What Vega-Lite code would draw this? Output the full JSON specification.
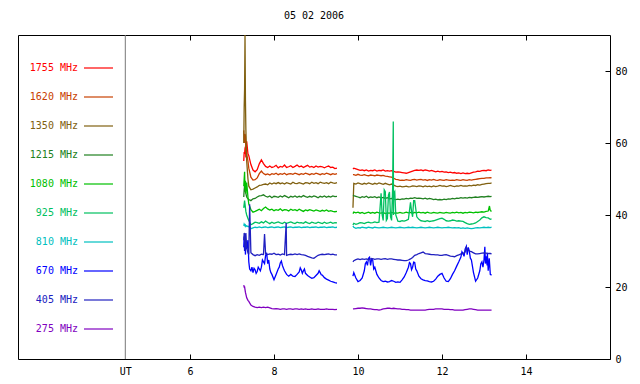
{
"$schema": "https://vega.github.io/schema/vega-lite/v6.json",
"width": 592, "height": 324,
"autosize": "none",
"padding": {"left": 18, "top": 35, "right": 30, "bottom": 25},
"background": "white",
"title": {"text": "05 02 2006", "font": "DejaVu Sans Mono", "fontSize": 10, "fontWeight": "normal", "color": "black", "offset": 11, "anchor": "middle", "frame": "group"},
"config": {"view": {"stroke": "black", "strokeWidth": 1}, "axis": {"grid": false, "domain": false, "labelFont": "DejaVu Sans Mono", "labelFontSize": 10, "labelColor": "black", "tickColor": "black", "title": null}},
"resolve": {"axis": {"x": "independent"}},
"layer": [
{"data": {"values": [{"t": 4.46}]},
 "mark": {"type": "rule", "color": "#777777", "strokeWidth": 1},
 "encoding": {"x": {"field": "t", "type": "quantitative", "scale": {"domain": [1.905, 16], "nice": false, "zero": false}, "axis": {"orient": "top", "values": [6,8,10,12,14], "labels": false, "tickSize": -5, "domain": false}}}},
{"data": {"values": [
{"t":7.28,"s":1,"1755":55,"1620":63.5,"1350":60,"1215":45,"1080":48,"925":42,"810":37,"670":31,"405":33,"275":20.5},
{"t":7.29,"s":1,"1755":57.5,"1620":61,"1350":70,"1215":47,"1080":50,"925":43,"810":37.5,"670":34,"405":35,"275":20},
{"t":7.30,"s":1,"1755":57,"1620":60,"1350":75,"1215":48,"1080":52,"925":44,"810":37.3,"670":30,"405":34.5,"275":20},
{"t":7.31,"s":1,"1755":58.5,"1620":62.5,"1350":90,"1215":47,"1080":47,"925":43,"810":37,"670":33.5,"405":30,"275":19.3},
{"t":7.32,"s":1,"1755":59,"1620":62,"1350":72,"1215":46.5,"1080":49.5,"925":42,"810":37.2,"670":29,"405":32,"275":18.5},
{"t":7.33,"s":1,"1755":56,"1620":58,"1350":64,"1215":46,"1080":46,"925":41,"810":36.8,"670":32,"405":35,"275":18},
{"t":7.35,"s":1,"1755":60.5,"1620":57,"1350":55,"1215":45,"1080":49,"925":40,"810":37,"670":30.5,"405":31,"275":17},
{"t":7.38,"s":1,"1755":57,"1620":55,"1350":50,"1215":44.5,"1080":45,"925":39,"810":36.8,"670":33,"405":29.5,"275":16.3},
{"t":7.40,"s":1,"1755":56.5,"1620":53,"1350":48,"1215":44.3,"1080":43,"925":38.5,"810":36.8,"670":27,"405":29,"275":16},
{"t":7.42,"s":1,"670":25,"405":43},
{"t":7.45,"s":1,"1755":54,"1620":50.5,"1350":47,"1215":44,"1080":41.5,"925":37.3,"810":36.2,"670":24.5,"405":29.5,"275":15},
{"t":7.475,"s":1,"670":25.5},
{"t":7.50,"s":1,"1755":52.5,"1620":49.7,"1350":47.2,"1215":44.5,"1080":40.8,"925":37.6,"810":36.4,"670":24.0,"405":29,"275":14.6},
{"t":7.525,"s":1,"670":25.2},
{"t":7.55,"s":1,"1755":52,"1620":49.8,"1350":47.5,"1215":44.6,"1080":41,"925":38,"810":36.6,"670":24.8,"405":28.7,"275":14.4},
{"t":7.575,"s":1,"670":23.8},
{"t":7.60,"s":1,"1755":52.6,"1620":50.3,"1350":47.8,"1215":45,"1080":41.3,"925":37.9,"810":36.5,"670":24.3,"405":29,"275":14.3},
{"t":7.625,"s":1,"670":25.5},
{"t":7.65,"s":1,"1755":54.2,"1620":51.5,"1350":48.2,"1215":45.3,"1080":41.6,"925":37.7,"810":36.7,"670":25.0,"405":28.8,"275":14.4},
{"t":7.675,"s":1,"670":24.5},
{"t":7.70,"s":1,"1755":55.3,"1620":52.2,"1350":48.3,"1215":45.4,"1080":41.2,"925":38.1,"810":36.5,"670":25.5,"405":29.1,"275":14.3},
{"t":7.725,"s":1,"670":27.5},
{"t":7.75,"s":1,"1755":54.3,"1620":51.5,"1350":48.5,"1215":45.6,"1080":41.8,"925":37.8,"810":36.6,"670":27.0,"405":29.0,"275":14.4},
{"t":7.775,"s":1,"670":26.5,"405":34.7},
{"t":7.80,"s":1,"1755":53.5,"1620":51.2,"1350":48.6,"1215":45.2,"1080":42.2,"925":38.3,"810":36.7,"670":28.8,"405":29.3,"275":14.3},
{"t":7.825,"s":1,"670":29.5},
{"t":7.85,"s":1,"1755":53.2,"1620":51.4,"1350":48.4,"1215":45.0,"1080":41.7,"925":37.9,"810":36.5,"670":26.5,"405":29.0,"275":14.4},
{"t":7.875,"s":1,"670":27.5},
{"t":7.90,"s":1,"1755":53.6,"1620":51.1,"1350":48.9,"1215":45.3,"1080":41.4,"925":37.6,"810":36.6,"670":25.0,"405":29.2,"275":14.2},
{"t":7.925,"s":1,"670":24},
{"t":7.95,"s":1,"1755":53.2,"1620":51.5,"1350":48.6,"1215":44.8,"1080":41.6,"925":38.0,"810":36.7,"670":23.5,"405":29.1,"275":14.0},
{"t":8.00,"s":1,"1755":53.4,"1620":51.3,"1350":48.9,"1215":45.2,"1080":41.2,"925":37.7,"810":36.5,"670":22.0,"405":29.4,"275":13.9},
{"t":8.05,"s":1,"1755":53.8,"1620":51.6,"1350":48.7,"1215":45.1,"1080":41.5,"925":37.9,"810":36.6,"670":23.5,"405":29.0,"275":14.0},
{"t":8.10,"s":1,"1755":53.1,"1620":51.2,"1350":49.0,"1215":44.9,"1080":41.3,"925":38.1,"810":36.7,"670":25.0,"405":29.1,"275":13.9},
{"t":8.125,"s":1,"670":25.5},
{"t":8.15,"s":1,"1755":53.5,"1620":51.5,"1350":48.7,"1215":45.3,"1080":41.7,"925":37.8,"810":36.5,"670":26.7,"405":28.9,"275":13.8},
{"t":8.175,"s":1,"670":27.2},
{"t":8.20,"s":1,"1755":53.3,"1620":51.3,"1350":48.9,"1215":45.0,"1080":41.2,"925":37.6,"810":36.6,"670":26.0,"405":29.2,"275":13.9},
{"t":8.225,"s":1,"670":25.2},
{"t":8.25,"s":1,"1755":53.9,"1620":51.6,"1350":48.6,"1215":45.4,"1080":41.5,"925":38.0,"810":36.7,"670":24.5,"405":29.0,"275":13.9},
{"t":8.29,"s":1,"405":37.8},
{"t":8.30,"s":1,"1755":53.2,"1620":51.2,"1350":49.0,"1215":45.1,"1080":41.4,"925":37.7,"810":36.5,"670":23.5,"405":28.8,"275":13.8},
{"t":8.35,"s":1,"1755":53.4,"1620":51.4,"1350":48.8,"1215":44.8,"1080":41.1,"925":37.9,"810":36.6,"670":23.0,"405":29.0,"275":13.9},
{"t":8.40,"s":1,"1755":53.7,"1620":51.5,"1350":48.6,"1215":45.2,"1080":41.6,"925":38.1,"810":36.7,"670":23.5,"405":29.1,"275":13.9},
{"t":8.45,"s":1,"1755":53.2,"1620":51.3,"1350":49.1,"1215":45.0,"1080":41.3,"925":37.8,"810":36.5,"670":23.0,"405":29.0,"275":13.8},
{"t":8.50,"s":1,"1755":53.5,"1620":51.6,"1350":48.8,"1215":45.3,"1080":41.5,"925":37.6,"810":36.6,"670":22.9,"405":29.2,"275":13.9},
{"t":8.55,"s":1,"1755":53.9,"1620":51.4,"1350":48.7,"1215":44.9,"1080":41.2,"925":38.0,"810":36.6,"670":23.5,"405":29.0,"275":13.9},
{"t":8.60,"s":1,"1755":53.4,"1620":51.2,"1350":49.0,"1215":45.2,"1080":41.6,"925":37.8,"810":36.7,"670":24.2,"405":29.2,"275":13.8},
{"t":8.625,"s":1,"670":25.3},
{"t":8.65,"s":1,"1755":53.6,"1620":51.5,"1350":48.8,"1215":45.0,"1080":41.3,"925":37.9,"810":36.5,"670":24.7,"405":29.0,"275":13.9},
{"t":8.675,"s":1,"670":23.8},
{"t":8.70,"s":1,"1755":53.2,"1620":51.3,"1350":48.6,"1215":45.4,"1080":41.0,"925":37.7,"810":36.6,"670":24.5,"405":28.9,"275":13.8},
{"t":8.725,"s":1,"670":25.0},
{"t":8.75,"s":1,"1755":53.5,"1620":51.6,"1350":49.0,"1215":45.1,"1080":41.4,"925":38.1,"810":36.6,"670":23.8,"405":28.8,"275":13.9},
{"t":8.80,"s":1,"1755":53.8,"1620":51.4,"1350":48.9,"1215":44.9,"1080":41.2,"925":37.8,"810":36.7,"670":23.2,"405":28.5,"275":13.8},
{"t":8.85,"s":1,"1755":53.3,"1620":51.2,"1350":48.7,"1215":45.2,"1080":41.5,"925":37.6,"810":36.5,"670":22.8,"405":28.3,"275":13.8},
{"t":8.90,"s":1,"1755":53.5,"1620":51.5,"1350":49.1,"1215":45.0,"1080":41.3,"925":38.0,"810":36.6,"670":22.4,"405":28.1,"275":13.9},
{"t":8.95,"s":1,"1755":53.2,"1620":51.3,"1350":48.8,"1215":45.3,"1080":41.1,"925":37.8,"810":36.6,"670":22.6,"405":28.0,"275":13.8},
{"t":9.00,"s":1,"1755":53.6,"1620":51.6,"1350":49.0,"1215":45.1,"1080":41.4,"925":37.7,"810":36.7,"670":23.2,"405":28.4,"275":13.8},
{"t":9.05,"s":1,"1755":53.3,"1620":51.4,"1350":48.7,"1215":44.8,"1080":41.2,"925":38.0,"810":36.5,"670":23.8,"405":28.8,"275":13.9},
{"t":9.075,"s":1,"670":24.5},
{"t":9.10,"s":1,"1755":53.5,"1620":51.2,"1350":49.1,"1215":45.2,"1080":41.0,"925":37.8,"810":36.6,"670":24.0,"405":29.0,"275":13.8},
{"t":9.125,"s":1,"670":23.4},
{"t":9.15,"s":1,"1755":53.4,"1620":51.5,"1350":48.9,"1215":45.0,"1080":41.3,"925":37.6,"810":36.6,"670":23.3,"405":29.1,"275":13.8},
{"t":9.20,"s":1,"1755":53.1,"1620":51.3,"1350":48.8,"1215":45.3,"1080":41.1,"925":38.0,"810":36.7,"670":22.6,"405":29.0,"275":13.8},
{"t":9.25,"s":1,"1755":53.4,"1620":51.6,"1350":49.0,"1215":44.9,"1080":41.4,"925":37.7,"810":36.5,"670":22.2,"405":29.1,"275":13.9},
{"t":9.30,"s":1,"1755":53.6,"1620":51.4,"1350":48.7,"1215":45.2,"1080":41.0,"925":37.8,"810":36.6,"670":21.9,"405":29.2,"275":13.8},
{"t":9.35,"s":1,"1755":53.2,"1620":51.2,"1350":49.1,"1215":45.0,"1080":41.2,"925":38.0,"810":36.6,"670":21.6,"405":29.0,"275":13.8},
{"t":9.40,"s":1,"1755":53.3,"1620":51.5,"1350":48.9,"1215":45.3,"1080":41.0,"925":37.7,"810":36.7,"670":21.4,"405":29.1,"275":13.8},
{"t":9.45,"s":1,"1755":52.9,"1620":51.3,"1350":48.8,"1215":45.1,"1080":40.9,"925":37.9,"810":36.5,"670":21.2,"405":28.9,"275":13.7},
{"t":9.50,"s":1,"1755":53.0,"1620":51.5,"1350":49.0,"1215":45.2,"1080":41.0,"925":37.8,"810":36.6,"670":21.1,"405":28.9,"275":13.8},
{"t":9.88,"s":2,"1755":52.8,"1620":51.2,"1350":42,"1215":45.5,"1080":40.4,"925":37.2,"810":37.0,"670":23.0,"405":27.0,"275":13.9},
{"t":9.90,"s":2,"1755":53.0,"1620":51.2,"1350":48.8,"1215":45.4,"1080":40.8,"925":37.7,"810":36.6,"670":24.0,"405":27.3,"275":13.9},
{"t":9.95,"s":2,"1755":52.8,"1620":51.0,"1350":48.6,"1215":45.2,"1080":40.6,"925":37.4,"810":36.3,"670":22.5,"405":27.6,"275":14.0},
{"t":10.00,"s":2,"1755":52.6,"1620":51.3,"1350":48.9,"1215":45.0,"1080":40.8,"925":37.6,"810":36.5,"670":21.5,"405":27.8,"275":14.1},
{"t":10.05,"s":2,"1755":52.4,"1620":51.1,"1350":48.7,"1215":44.8,"1080":40.5,"925":37.9,"810":36.4,"670":21.8,"405":27.6,"275":14.1},
{"t":10.10,"s":2,"1755":52.5,"1620":51.0,"1350":48.5,"1215":45.1,"1080":40.7,"925":37.8,"810":36.6,"670":22.5,"405":27.8,"275":14.2},
{"t":10.15,"s":2,"1755":52.3,"1620":51.2,"1350":48.8,"1215":44.9,"1080":40.4,"925":37.6,"810":36.5,"670":24.5,"405":27.7,"275":14.1},
{"t":10.175,"s":2,"670":26.5},
{"t":10.20,"s":2,"1755":52.5,"1620":51.0,"1350":48.6,"1215":45.2,"1080":40.6,"925":37.9,"810":36.4,"670":27.0,"405":27.8,"275":14.0},
{"t":10.225,"s":2,"670":26.0},
{"t":10.25,"s":2,"1755":52.2,"1620":50.9,"1350":48.9,"1215":44.8,"1080":40.8,"925":38.0,"810":36.6,"670":28.0,"405":27.6,"275":13.9},
{"t":10.275,"s":2,"670":28.3},
{"t":10.30,"s":2,"1755":52.4,"1620":51.1,"1350":48.7,"1215":45.0,"1080":40.5,"925":37.8,"810":36.5,"670":26.0,"405":27.8,"275":13.9},
{"t":10.325,"s":2,"670":27.8},
{"t":10.35,"s":2,"1755":52.3,"1620":51.0,"1350":48.5,"1215":44.9,"1080":40.7,"925":37.9,"810":36.4,"670":27.5,"405":27.9,"275":13.8},
{"t":10.375,"s":2,"670":25.0},
{"t":10.40,"s":2,"1755":52.5,"1620":50.9,"1350":48.8,"1215":45.1,"1080":40.5,"925":38.1,"810":36.6,"670":25.5,"405":27.7,"275":13.7},
{"t":10.45,"s":2,"1755":52.2,"1620":51.1,"1350":48.6,"1215":44.8,"1080":40.8,"925":37.9,"810":36.5,"670":23.5,"405":27.8,"275":13.7},
{"t":10.50,"s":2,"1755":52.4,"1620":51.0,"1350":48.9,"1215":45.0,"1080":40.6,"925":38.0,"810":36.4,"670":22.5,"405":27.8,"275":13.6},
{"t":10.55,"s":2,"1755":52.3,"1620":50.9,"1350":48.7,"1215":44.7,"1080":40.5,"925":46.0,"810":36.5,"670":21.8,"405":27.7,"275":13.7},
{"t":10.575,"s":2,"925":40},
{"t":10.60,"s":2,"1755":52.5,"1620":51.0,"1350":48.5,"1215":44.9,"1080":40.7,"925":38.5,"810":36.6,"670":21.5,"405":27.8,"275":13.9},
{"t":10.625,"s":2,"925":47},
{"t":10.65,"s":2,"1755":52.2,"1620":50.8,"1350":48.8,"1215":44.6,"1080":40.4,"925":46.5,"810":36.5,"670":21.6,"405":27.9,"275":14.0},
{"t":10.675,"s":2,"925":38.5},
{"t":10.70,"s":2,"1755":52.3,"1620":50.7,"1350":48.6,"1215":44.8,"1080":40.6,"925":39.0,"810":36.4,"670":21.4,"405":27.7,"275":14.1},
{"t":10.725,"s":2,"925":45.5},
{"t":10.75,"s":2,"1755":52.2,"1620":50.6,"1350":48.4,"1215":44.5,"1080":40.5,"925":46.4,"810":36.5,"670":21.5,"405":27.8,"275":14.1},
{"t":10.775,"s":2,"925":39.5},
{"t":10.80,"s":2,"1755":52.3,"1620":50.5,"1350":48.6,"1215":44.6,"1080":40.7,"925":38.5,"810":36.6,"670":21.8,"405":27.8,"275":14.0},
{"t":10.825,"s":2,"925":47.5},
{"t":10.84,"s":2,"925":66},
{"t":10.845,"s":2,"925":40},
{"t":10.85,"s":2,"1755":52.1,"1620":50.2,"1350":48.3,"1215":44.4,"1080":40.5,"925":46.0,"810":36.5,"670":21.6,"405":27.7,"275":14.1},
{"t":10.875,"s":2,"925":46.5},
{"t":10.90,"s":2,"1755":51.9,"1620":49.9,"1350":48.0,"1215":44.3,"1080":40.6,"925":40.0,"810":36.4,"670":21.3,"405":27.6,"275":14.0},
{"t":10.95,"s":2,"1755":52.0,"1620":49.8,"1350":47.9,"1215":44.4,"1080":40.5,"925":38.3,"810":36.5,"670":21.4,"405":27.5,"275":13.9},
{"t":11.00,"s":2,"1755":51.9,"1620":49.6,"1350":48.0,"1215":44.3,"1080":40.7,"925":38.2,"810":36.6,"670":21.3,"405":27.5,"275":13.9},
{"t":11.05,"s":2,"1755":51.8,"1620":49.7,"1350":47.8,"1215":44.5,"1080":40.5,"925":38.4,"810":36.5,"670":22.0,"405":27.4,"275":13.8},
{"t":11.10,"s":2,"1755":51.7,"1620":49.6,"1350":47.9,"1215":44.4,"1080":40.6,"925":38.3,"810":36.4,"670":22.8,"405":27.3,"275":13.8},
{"t":11.15,"s":2,"1755":51.6,"1620":49.8,"1350":48.0,"1215":44.6,"1080":40.8,"925":38.5,"810":36.5,"670":24.0,"405":27.3,"275":13.7},
{"t":11.20,"s":2,"1755":51.8,"1620":49.7,"1350":47.8,"1215":44.5,"1080":40.6,"925":38.8,"810":36.6,"670":25.5,"405":27.5,"275":13.7},
{"t":11.225,"s":2,"670":26.8},
{"t":11.25,"s":2,"1755":52.0,"1620":49.6,"1350":47.9,"1215":44.7,"1080":40.7,"925":43.5,"810":36.5,"670":26.5,"405":27.8,"275":13.6},
{"t":11.275,"s":2,"925":41,"670":24.8},
{"t":11.30,"s":2,"1755":52.2,"1620":49.8,"1350":48.1,"1215":44.6,"1080":40.5,"925":39.5,"810":36.6,"670":25.5,"405":28.2,"275":13.6},
{"t":11.325,"s":2,"925":44,"670":26.9},
{"t":11.35,"s":2,"1755":52.4,"1620":49.9,"1350":48.0,"1215":44.8,"1080":40.7,"925":44.0,"810":36.5,"670":26.8,"405":28.8,"275":13.6},
{"t":11.375,"s":2,"670":25.0},
{"t":11.40,"s":2,"1755":52.5,"1620":49.7,"1350":47.9,"1215":44.6,"1080":40.6,"925":39.5,"810":36.4,"670":24.5,"405":29.0,"275":13.6},
{"t":11.45,"s":2,"1755":52.4,"1620":49.8,"1350":48.1,"1215":44.7,"1080":40.8,"925":38.8,"810":36.5,"670":23.0,"405":29.3,"275":13.6},
{"t":11.50,"s":2,"1755":52.5,"1620":49.9,"1350":48.0,"1215":44.6,"1080":40.6,"925":38.4,"810":36.6,"670":22.3,"405":29.5,"275":13.6},
{"t":11.55,"s":2,"1755":52.3,"1620":49.7,"1350":47.8,"1215":44.5,"1080":40.7,"925":38.3,"810":36.5,"670":22.0,"405":29.7,"275":13.6},
{"t":11.60,"s":2,"1755":52.5,"1620":49.8,"1350":48.1,"1215":44.7,"1080":40.5,"925":38.2,"810":36.4,"670":21.8,"405":29.3,"275":13.6},
{"t":11.65,"s":2,"1755":52.4,"1620":49.6,"1350":47.9,"1215":44.4,"1080":40.8,"925":38.4,"810":36.5,"670":21.7,"405":29.2,"275":13.7},
{"t":11.70,"s":2,"1755":52.2,"1620":49.8,"1350":48.0,"1215":44.6,"1080":40.6,"925":38.2,"810":36.6,"670":21.5,"405":29.1,"275":13.8},
{"t":11.75,"s":2,"1755":52.4,"1620":49.7,"1350":47.8,"1215":44.5,"1080":40.5,"925":38.3,"810":36.5,"670":21.4,"405":29.0,"275":13.8},
{"t":11.80,"s":2,"1755":52.2,"1620":49.9,"1350":48.1,"1215":44.3,"1080":40.7,"925":38.4,"810":36.4,"670":21.6,"405":29.0,"275":13.8},
{"t":11.85,"s":2,"1755":52.0,"1620":49.7,"1350":47.9,"1215":44.4,"1080":40.6,"925":38.6,"810":36.5,"670":22.2,"405":28.9,"275":13.9},
{"t":11.90,"s":2,"1755":52.2,"1620":49.6,"1350":48.0,"1215":44.2,"1080":40.5,"925":38.8,"810":36.6,"670":23.0,"405":28.9,"275":13.9},
{"t":11.95,"s":2,"1755":52.0,"1620":49.8,"1350":48.2,"1215":44.3,"1080":40.7,"925":39.0,"810":36.5,"670":23.5,"405":28.8,"275":13.9},
{"t":12.00,"s":2,"1755":52.1,"1620":49.7,"1350":48.0,"1215":44.2,"1080":40.6,"925":39.1,"810":36.4,"670":23.8,"405":28.8,"275":13.9},
{"t":12.05,"s":2,"1755":51.9,"1620":49.6,"1350":48.1,"1215":44.4,"1080":40.5,"925":38.8,"810":36.5,"670":22.5,"405":28.9,"275":13.8},
{"t":12.10,"s":2,"1755":52.0,"1620":49.8,"1350":47.9,"1215":44.3,"1080":40.7,"925":38.4,"810":36.5,"670":21.6,"405":29.0,"275":13.8},
{"t":12.15,"s":2,"1755":51.8,"1620":49.7,"1350":48.0,"1215":44.5,"1080":40.6,"925":38.3,"810":36.6,"670":21.5,"405":28.8,"275":13.8},
{"t":12.20,"s":2,"1755":51.9,"1620":49.6,"1350":48.2,"1215":44.4,"1080":40.5,"925":38.4,"810":36.5,"670":22.3,"405":28.6,"275":13.7},
{"t":12.25,"s":2,"1755":51.7,"1620":49.7,"1350":48.0,"1215":44.6,"1080":40.7,"925":38.6,"810":36.4,"670":23.5,"405":28.5,"275":13.7},
{"t":12.30,"s":2,"1755":51.8,"1620":49.6,"1350":47.9,"1215":44.5,"1080":40.6,"925":38.5,"810":36.5,"670":24.5,"405":28.4,"275":13.6},
{"t":12.35,"s":2,"1755":51.6,"1620":49.8,"1350":48.1,"1215":44.7,"1080":40.8,"925":38.3,"810":36.4,"670":25.8,"405":28.7,"275":13.6},
{"t":12.40,"s":2,"1755":51.7,"1620":49.7,"1350":48.0,"1215":44.6,"1080":40.6,"925":38.4,"810":36.5,"670":27.0,"405":28.9,"275":13.6},
{"t":12.45,"s":2,"1755":51.5,"1620":49.6,"1350":48.2,"1215":44.8,"1080":40.7,"925":38.3,"810":36.3,"670":28.3,"405":29.2,"275":13.6},
{"t":12.475,"s":2,"670":29.8},
{"t":12.50,"s":2,"1755":51.7,"1620":49.8,"1350":48.0,"1215":44.7,"1080":40.5,"925":38.2,"810":36.4,"670":29.3,"405":29.3,"275":13.6},
{"t":12.525,"s":2,"670":28.5},
{"t":12.55,"s":2,"1755":51.5,"1620":49.7,"1350":48.1,"1215":44.8,"1080":40.7,"925":37.9,"810":36.3,"670":30.5,"405":29.7,"275":13.7},
{"t":12.58,"s":2,"670":31.3,"405":31.0},
{"t":12.60,"s":2,"1755":51.6,"1620":49.6,"1350":48.0,"1215":44.7,"1080":40.6,"925":37.6,"810":36.4,"670":29.0,"405":30.5,"275":13.8},
{"t":12.625,"s":2,"670":31.0},
{"t":12.65,"s":2,"1755":51.5,"1620":49.8,"1350":48.2,"1215":44.9,"1080":40.8,"925":37.4,"810":36.3,"670":30.0,"405":30.0,"275":13.9},
{"t":12.675,"s":2,"670":28.0},
{"t":12.70,"s":2,"1755":51.7,"1620":49.7,"1350":48.1,"1215":44.8,"1080":40.7,"925":37.5,"810":36.2,"670":27.5,"405":29.8,"275":13.9},
{"t":12.75,"s":2,"1755":51.9,"1620":49.8,"1350":48.3,"1215":44.9,"1080":40.6,"925":37.6,"810":36.3,"670":24.0,"405":29.5,"275":13.8},
{"t":12.80,"s":2,"1755":52.0,"1620":49.9,"1350":48.2,"1215":45.0,"1080":40.8,"925":37.8,"810":36.4,"670":21.6,"405":29.2,"275":13.7},
{"t":12.85,"s":2,"1755":52.2,"1620":50.0,"1350":48.4,"1215":44.9,"1080":40.7,"925":38.2,"810":36.5,"670":22.5,"405":29.2,"275":13.6},
{"t":12.90,"s":2,"1755":52.1,"1620":50.1,"1350":48.3,"1215":45.0,"1080":40.8,"925":38.6,"810":36.4,"670":24.5,"405":29.3,"275":13.6},
{"t":12.925,"s":2,"670":26.5},
{"t":12.95,"s":2,"1755":52.3,"1620":50.2,"1350":48.5,"1215":45.1,"1080":40.9,"925":39.2,"810":36.5,"670":27.0,"405":29.4,"275":13.6},
{"t":12.975,"s":2,"670":25.5},
{"t":13.00,"s":2,"1755":52.4,"1620":50.2,"1350":48.6,"1215":45.0,"1080":40.8,"925":39.5,"810":36.6,"670":27.5,"405":29.5,"275":13.6},
{"t":13.02,"s":2,"670":31.2},
{"t":13.035,"s":2,"670":26.5},
{"t":13.05,"s":2,"1755":52.3,"1620":50.3,"1350":48.7,"1215":45.1,"1080":41.0,"925":39.3,"810":36.5,"670":28.5,"405":29.4,"275":13.6},
{"t":13.075,"s":2,"670":26.0},
{"t":13.08,"s":2,"670":29.5},
{"t":13.10,"s":2,"1755":52.5,"1620":50.3,"1350":48.8,"1215":45.2,"1080":41.1,"925":39.2,"810":36.6,"670":24.5,"405":29.3,"275":13.6},
{"t":13.125,"s":2,"670":28.0},
{"t":13.13,"s":2,"1080":42.5},
{"t":13.15,"s":2,"1755":52.4,"1620":50.4,"1350":48.8,"1215":45.1,"1080":41.2,"925":38.8,"810":36.5,"670":23.5,"405":29.3,"275":13.6},
{"t":13.18,"s":2,"1755":52.5,"1620":50.3,"1350":48.9,"1215":45.2,"1080":41.0,"925":38.9,"810":36.6,"670":23.3,"405":29.2,"275":13.6}
]},
 "transform": [{"fold": ["1755","1620","1350","1215","1080","925","810","670","405","275"], "as": ["f","v"]}, {"filter": "isValid(datum.v)"}],
 "mark": {"type": "line", "strokeWidth": 1.3, "interpolate": "linear"},
 "encoding": {
  "x": {"field": "t", "type": "quantitative", "scale": {"domain": [1.905, 16], "nice": false, "zero": false},
        "axis": {"orient": "bottom", "values": [4.46,6,8,10,12,14], "labelExpr": "datum.value < 5 ? 'UT' : datum.label", "tickSize": -5, "labelPadding": 12, "labelFlush": false,
                 "tickColor": {"condition": {"test": "datum.value < 5", "value": "transparent"}, "value": "black"}}},
  "y": {"field": "v", "type": "quantitative", "scale": {"domain": [0, 90], "nice": false},
        "axis": {"orient": "right", "values": [0,20,40,60,80], "tickSize": -5, "labelPadding": 10, "labelFlush": false}},
  "color": {"field": "f", "type": "nominal",
            "scale": {"domain": ["1755","1620","1350","1215","1080","925","810","670","405","275"],
                      "range": ["#ff0000","#c84000","#806010","#208020","#00c000","#00c060","#00c0c0","#0000ff","#2020c0","#8000c0"]},
            "legend": {"title": null, "orient": "none", "legendX": 65, "legendY": 17.5, "symbolType": "stroke", "symbolSize": 841, "symbolStrokeWidth": 1.2,
                       "labelAlign": "right", "labelOffset": -36, "labelBaseline": "middle", "labelFont": "DejaVu Sans Mono", "labelFontSize": 10,
                       "rowPadding": 8, "padding": 0, "symbolOffset": 0, "labelExpr": "datum.label + ' MHz'",
                       "encode": {"labels": {"update": {"fill": {"scale": "color", "field": "value"}}},
                                  "symbols": {"update": {"stroke": {"scale": "color", "field": "value"}}}}}},
  "detail": {"field": "s"}
 }}
]
}
